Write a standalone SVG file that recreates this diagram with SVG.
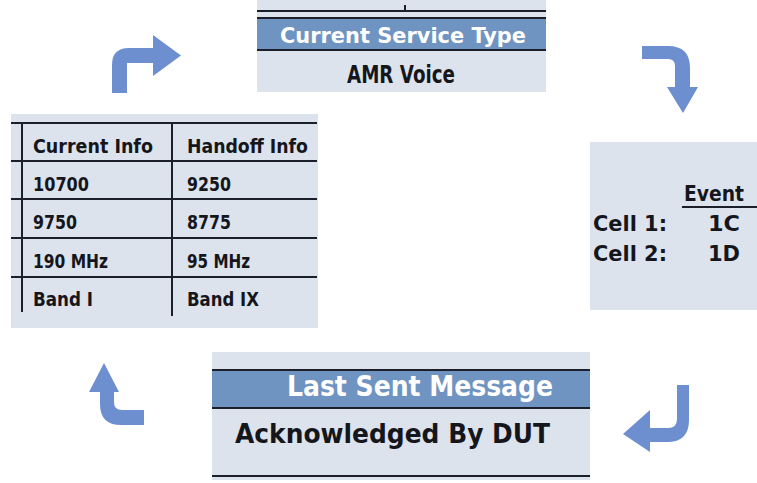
<svg xmlns="http://www.w3.org/2000/svg" width="757" height="483" viewBox="0 0 757 483">
<style>
.panel{fill:#dde3ec}
.band{fill:#6f94c2}
.ln{stroke:#1c1f2a;stroke-width:2;fill:none}
.t{font-family:"DejaVu Sans","Liberation Sans",sans-serif;font-weight:bold;fill:#15161c}
.w{font-family:"DejaVu Sans","Liberation Sans",sans-serif;font-weight:bold;fill:#ffffff}
.arrow{fill:#6d8fd0}
</style>
<rect width="757" height="483" fill="#ffffff"/>
<g id="service-type">
<rect class="panel" x="257" y="0" width="289" height="92"/>
<line class="ln" x1="257" y1="11" x2="546" y2="11"/>
<line class="ln" x1="405" y1="5" x2="405" y2="11"/>
<rect class="band" x="257" y="18" width="289" height="31"/>
<line class="ln" x1="257" y1="18" x2="546" y2="18" stroke-width="1.5"/>
<line class="ln" x1="257" y1="50" x2="546" y2="50" stroke-width="2.5"/>
<text class="w" x="280" y="43" font-size="22" textLength="246" lengthAdjust="spacingAndGlyphs">Current Service Type</text>
<text class="t" x="347" y="83" font-size="25" textLength="108" lengthAdjust="spacingAndGlyphs">AMR Voice</text>
</g>
<g id="info-table">
<rect class="panel" x="11" y="114" width="307" height="214"/>
<line class="ln" x1="11" y1="123" x2="317" y2="123"/>
<line class="ln" x1="11" y1="161" x2="317" y2="161"/>
<line class="ln" x1="11" y1="199" x2="317" y2="199"/>
<line class="ln" x1="11" y1="238" x2="317" y2="238"/>
<line class="ln" x1="11" y1="277" x2="317" y2="277"/>
<line class="ln" x1="22" y1="123" x2="22" y2="312"/>
<line class="ln" x1="172" y1="123" x2="172" y2="316"/>
<text class="t" x="33" y="153" font-size="20" textLength="120" lengthAdjust="spacingAndGlyphs">Current Info</text>
<text class="t" x="187" y="153" font-size="20" textLength="121" lengthAdjust="spacingAndGlyphs">Handoff Info</text>
<text class="t" x="33" y="191" font-size="20" textLength="56" lengthAdjust="spacingAndGlyphs">10700</text>
<text class="t" x="187" y="191" font-size="20" textLength="44" lengthAdjust="spacingAndGlyphs">9250</text>
<text class="t" x="33" y="229" font-size="20" textLength="44" lengthAdjust="spacingAndGlyphs">9750</text>
<text class="t" x="187" y="229" font-size="20" textLength="44" lengthAdjust="spacingAndGlyphs">8775</text>
<text class="t" x="33" y="268" font-size="20" textLength="75" lengthAdjust="spacingAndGlyphs">190 MHz</text>
<text class="t" x="187" y="268" font-size="20" textLength="63" lengthAdjust="spacingAndGlyphs">95 MHz</text>
<text class="t" x="33" y="306" font-size="20" textLength="60" lengthAdjust="spacingAndGlyphs">Band I</text>
<text class="t" x="187" y="306" font-size="20" textLength="72" lengthAdjust="spacingAndGlyphs">Band IX</text>
</g>
<g id="event">
<rect class="panel" x="590" y="142" width="167" height="168"/>
<text class="t" x="684" y="201" font-size="21" textLength="60" lengthAdjust="spacingAndGlyphs">Event</text>
<line class="ln" x1="682" y1="207" x2="757" y2="207" stroke-width="2.5"/>
<text class="t" x="593" y="231" font-size="21" textLength="74" lengthAdjust="spacingAndGlyphs">Cell 1:</text>
<text class="t" x="708" y="231" font-size="21" textLength="32" lengthAdjust="spacingAndGlyphs">1C</text>
<text class="t" x="593" y="261" font-size="21" textLength="74" lengthAdjust="spacingAndGlyphs">Cell 2:</text>
<text class="t" x="708" y="261" font-size="21" textLength="32" lengthAdjust="spacingAndGlyphs">1D</text>
</g>
<g id="last-sent">
<rect class="panel" x="212" y="352" width="378" height="128"/>
<rect class="band" x="212" y="371" width="378" height="36"/>
<line class="ln" x1="212" y1="370" x2="590" y2="370" stroke-width="2.5"/>
<line class="ln" x1="212" y1="408" x2="590" y2="408" stroke-width="2.5"/>
<line class="ln" x1="212" y1="476" x2="590" y2="476" stroke-width="2.5"/>
<text class="w" x="287" y="396" font-size="28" textLength="266" lengthAdjust="spacingAndGlyphs">Last Sent Message</text>
<text class="t" x="235" y="443" font-size="26" textLength="315" lengthAdjust="spacingAndGlyphs">Acknowledged By DUT</text>
</g>
<g id="connectors">
<path class="arrow" d="M112,93 L112,65 Q112,48 129,48 L153,48 L153,35 L181,55.5 L153,76 L153,63 L127,63 L127,93 Z"/>
<path class="arrow" d="M642,46 L668,46 Q690,46 690,68 L690,87 L698,87 L683,113 L667,87 L675,87 L675,66 Q675,59 668,59 L642,59 Z"/>
<path class="arrow" d="M689,385 L689,420 Q689,442 667,442 L650,442 L650,452 L623,434 L650,410 L650,428 L668,428 Q677,428 677,419 L677,385 Z"/>
<path class="arrow" d="M144,410 L144,425 L121,425 Q100,425 100,404 L100,392 L89,392 L104,363 L119,392 L114,392 L114,402 Q114,410 122,410 Z"/>
</g>
</svg>
